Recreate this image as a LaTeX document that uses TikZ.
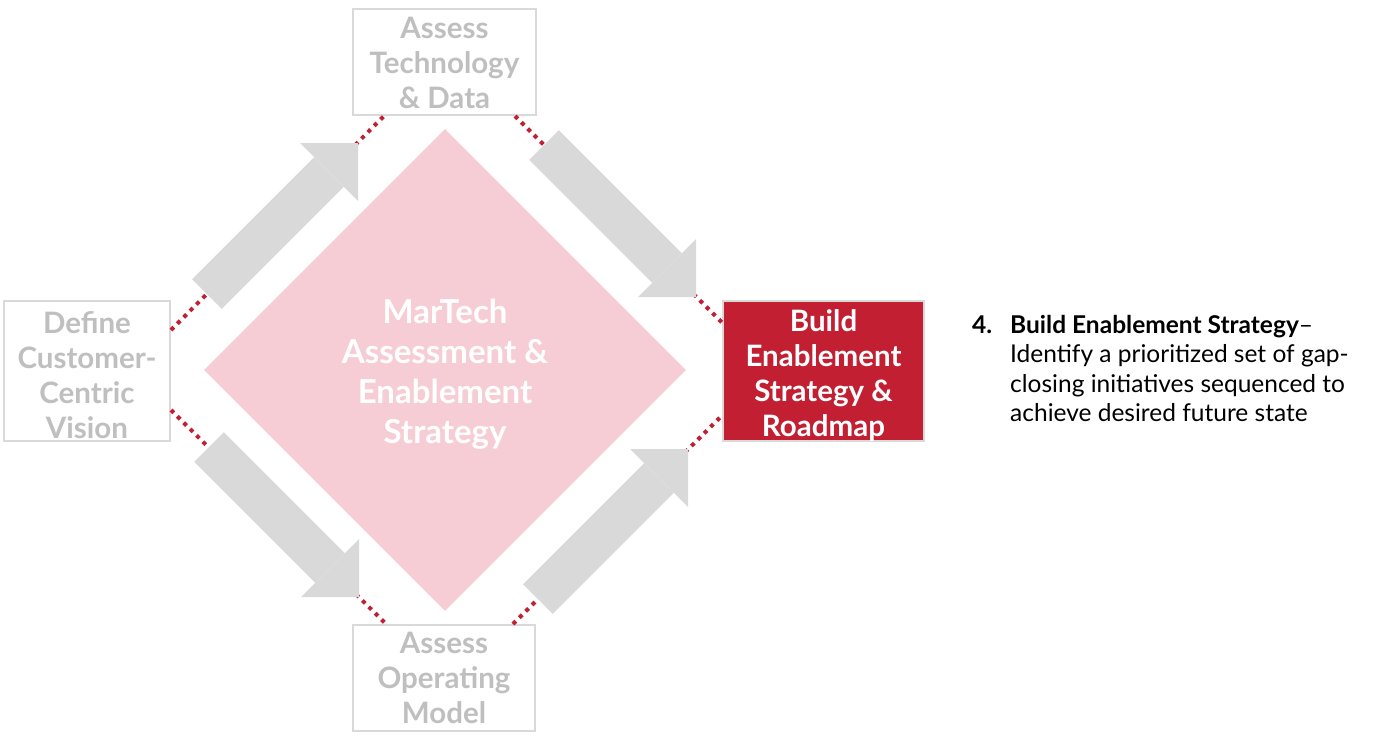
\documentclass[tikz,border=0pt]{standalone}
\usepackage{fontspec}
\setmainfont{Lato}
\usetikzlibrary{arrows.meta,shapes.geometric}
\definecolor{brandRed}{HTML}{C21F33}
\definecolor{softPink}{HTML}{F6CDD4}
\definecolor{paleGrey}{HTML}{D9D9D9}
\definecolor{fadedText}{HTML}{BFBFBF}
\newcommand\padtop[1]{\rule{0pt}{#1}}

\begin{document}
\begin{tikzpicture}[x=1pt, y=-1pt,
  stage/.style={draw=paleGrey, line width=2pt, fill=white, text=fadedText, align=center, inner sep=0pt, font=\fontsize{29.5}{35}\selectfont\bfseries},
  flow/.style={paleGrey, line width=42pt, -{Triangle[length=41pt, width=82pt, line width=0pt]}},
  link/.style={brandRed, line width=4pt, dash pattern=on 4pt off 5pt}
]
  \useasboundingbox (0,0) rectangle (1385,748);

  \node[diamond, fill=softPink, minimum width=482pt, minimum height=482pt, inner sep=0pt, text=white, align=center, font=\fontsize{33}{40}\selectfont\bfseries] (core) at (445,370) {\padtop{33pt}MarTech\\Assessment \&\\Enablement\\Strategy};

  \node[stage, minimum width=183pt, minimum height=106pt] (tech) at (444.5,62) {\padtop{24pt}Assess\\Technology\\\& Data};
  \node[stage, minimum width=166pt, minimum height=140pt] (vision) at (87,371) {\padtop{30pt}Define\\Customer-\\Centric\\Vision};
  \node[stage, fill=brandRed, text=white, minimum width=201pt, minimum height=140pt] (roadmap) at (823.5,371) {\padtop{31pt}Build\\Enablement\\Strategy \&\\Roadmap};
  \node[stage, minimum width=182pt, minimum height=106pt] (opmodel) at (444,678) {Assess\\Operating\\Model};

  % dotted links between the stages
  \draw[link] ([yshift=-30pt]vision.north east) -- ([xshift=32pt]tech.south west);
  \draw[link] ([xshift=-22pt]tech.south east) -- ([yshift=-23pt]roadmap.north west);
  \draw[link] ([yshift=32pt]vision.south east) -- ([xshift=34pt]opmodel.north west);
  \draw[link] ([xshift=-23pt]opmodel.north east) -- ([yshift=27pt]roadmap.south west);

  % block arrows
  \coordinate (a1s) at (207,294);
  \coordinate (a1e) at (358,143);
  \coordinate (a2s) at (544,145);
  \coordinate (a2e) at (696,297);
  \coordinate (a3s) at (209,447);
  \coordinate (a3e) at (359,597);
  \coordinate (a4s) at (538,599);
  \coordinate (a4e) at (688,449);
  \draw[flow] (a1s) -- (a1e);
  \draw[flow] (a2s) -- (a2e);
  \draw[flow] (a3s) -- (a3e);
  \draw[flow] (a4s) -- (a4e);

  \node[anchor=base west, inner sep=0pt, font=\fontsize{24.5}{29.5}\selectfont] (note) at (972,333) {\begin{tabular}[t]{@{}p{38pt}@{}l@{}}
    \textbf{4.} & \textbf{Build Enablement Strategy}--\\
    & Identify a prioritized set of gap-\\
    & closing initiatives sequenced to\\
    & achieve desired future state
  \end{tabular}};
\end{tikzpicture}
\end{document}
